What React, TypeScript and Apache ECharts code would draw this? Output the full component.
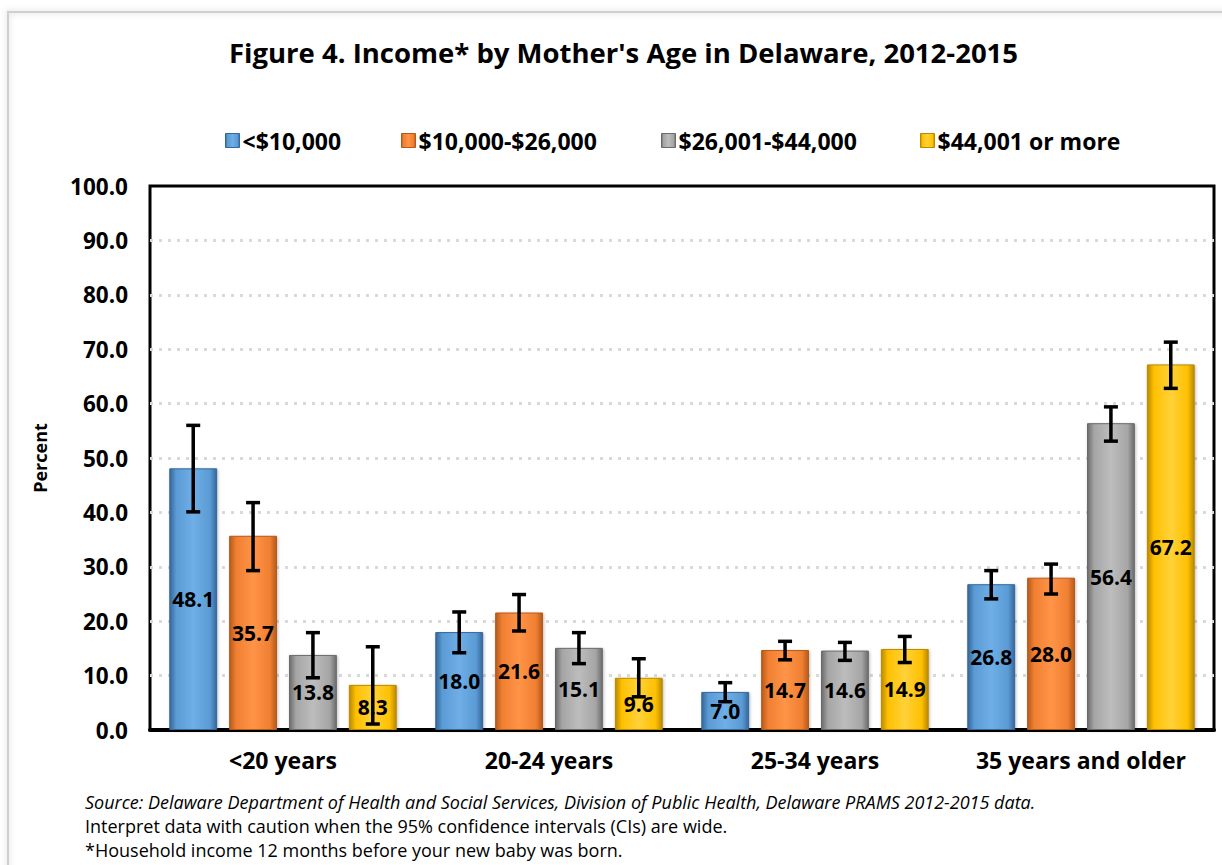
import React, { useEffect, useRef } from "react";
import * as echarts from "echarts";

const categories = ["<20 years", "20-24 years", "25-34 years", "35 years and older"];
const seriesNames = ["<$10,000", "$10,000-$26,000", "$26,001-$44,000", "$44,001 or more"];
const under10k = [48.1, 18.0, 7.0, 26.8];
const from10to26k = [35.7, 21.6, 14.7, 28.0];
const from26to44k = [13.8, 15.1, 14.6, 56.4];
const over44k = [8.3, 9.6, 14.9, 67.2];
const ciLow = [
  [40.1, 14.2, 5.2, 24.1],
  [29.3, 18.2, 12.9, 25.0],
  [9.6, 12.2, 12.8, 53.1],
  [1.1, 6.1, 12.4, 62.8],
];
const ciHigh = [
  [56.0, 21.7, 8.7, 29.3],
  [41.8, 24.9, 16.3, 30.5],
  [17.9, 17.9, 16.1, 59.4],
  [15.3, 13.1, 17.2, 71.3],
];
const yTicks = { min: 0, max: 100, interval: 10 };
const footnotes = [
  "Source: Delaware Department of Health and Social Services, Division of Public Health, Delaware PRAMS 2012-2015 data.",
  "Interpret data with caution when the 95% confidence intervals (CIs) are wide.",
  "*Household income 12 months before your new baby was born.",
];

const palettes = [
  { dark: "#35679A", base: "#5B9BD5", light: "#6FAEE6" },
  { dark: "#B65A1A", base: "#F07F32", light: "#FF9447" },
  { dark: "#6B6B6B", base: "#A5A5A5", light: "#BDBDBD" },
  { dark: "#B98A00", base: "#FFC000", light: "#FFD23A" },
];
const legendLefts = [220, 396, 656, 915];

const FONT = "'Open Sans', Lato, 'DejaVu Sans', sans-serif";

function grad(p: { dark: string; base: string; light: string }) {
  return new echarts.graphic.LinearGradient(0, 0, 1, 0, [
    { offset: 0, color: p.dark },
    { offset: 0.14, color: p.base },
    { offset: 0.5, color: p.light },
    { offset: 0.86, color: p.base },
    { offset: 1, color: p.dark },
  ]);
}

const BAR_PCT = 0.18;
const GAP_RATIO = 0.25;

export default function App() {
  const ref = useRef<HTMLDivElement>(null);
  useEffect(() => {
    if (!ref.current) return;
    const chart = echarts.init(ref.current, null, { renderer: "svg" });
    const values = [under10k, from10to26k, from26to44k, over44k];
    const barSeries = values.map((vals, i) => ({
      name: seriesNames[i],
      type: "bar",
      data: vals,
      barWidth: BAR_PCT * 100 + "%",
      barGap: GAP_RATIO * 100 + "%",
      itemStyle: {
        color: grad(palettes[i]),
        borderColor: palettes[i].dark,
        borderWidth: 1,
        shadowColor: "rgba(0,0,0,0.25)",
        shadowBlur: 3,
        shadowOffsetX: 1,
        shadowOffsetY: 1,
      },
      label: {
        show: true,
        position: "inside",
        formatter: (p: any) => Number(p.value).toFixed(1),
        color: "#000",
        fontFamily: FONT,
        fontWeight: "bold",
        fontSize: 21,
      },
      z: 2,
    }));
    const ciSeries = values.map((_, i) => ({
      name: "ci" + i,
      type: "custom",
      z: 5,
      silent: true,
      data: categories.map((_, c) => [c, ciLow[i][c], ciHigh[i][c]]),
      encode: { x: 0, y: [1, 2] },
      renderItem: (params: any, api: any) => {
        const c = api.value(0);
        const lo = api.coord([c, api.value(1)]);
        const hi = api.coord([c, api.value(2)]);
        const band = api.size([1, 0])[0];
        const bw = band * BAR_PCT;
        const step = bw * (1 + GAP_RATIO);
        const x = lo[0] + (i - 1.5) * step;
        const cap = 7;
        const style = { stroke: "#000", lineWidth: 3.5 };
        return {
          type: "group",
          children: [
            { type: "line", shape: { x1: x, y1: lo[1], x2: x, y2: hi[1] }, style },
            { type: "line", shape: { x1: x - cap, y1: lo[1], x2: x + cap, y2: lo[1] }, style },
            { type: "line", shape: { x1: x - cap, y1: hi[1], x2: x + cap, y2: hi[1] }, style },
          ],
        };
      },
    }));
    const legends = seriesNames.map((n, i) => ({
      data: [
        {
          name: n,
          itemStyle: { color: grad(palettes[i]), borderColor: palettes[i].dark, borderWidth: 1 },
        },
      ],
      left: legendLefts[i],
      top: 124,
      itemWidth: 14,
      itemHeight: 14,
      icon: "rect",
      textStyle: { fontFamily: FONT, fontWeight: "bold", fontSize: 23, color: "#000", padding: [0, 0, 0, -2] },
    }));
    const footTops = [793, 817, 841];
    const footGraphics = footnotes.map((t, i) => ({
      type: "text",
      left: 85,
      top: footTops[i],
      style: {
        text: t,
        font: (i === 0 ? "italic " : "") + "18px " + FONT,
        lineHeight: 18,
        fill: "#000",
      },
    }));
    chart.setOption({
      animation: false,
      backgroundColor: "#fff",
      title: {
        text: "Figure 4. Income* by Mother's Age in Delaware, 2012-2015",
        left: 224,
        top: 33,
        textStyle: { fontFamily: FONT, fontWeight: "bold", fontSize: 27.5, color: "#000" },
      },
      legend: legends,
      grid: {
        left: 150,
        right: 8,
        top: 186,
        bottom: 135,
        show: true,
        borderColor: "#000",
        borderWidth: 3,
      },
      xAxis: {
        type: "category",
        data: categories,
        axisTick: { show: false },
        axisLine: { lineStyle: { color: "#000", width: 4 } },
        axisLabel: { interval: 0, margin: 18, fontFamily: FONT, fontWeight: "bold", fontSize: 23, color: "#000" },
      },
      yAxis: {
        type: "value",
        min: yTicks.min,
        max: yTicks.max,
        interval: yTicks.interval,
        name: "Percent",
        nameLocation: "middle",
        nameRotate: 90,
        nameGap: 101,
        nameTextStyle: { fontFamily: FONT, fontWeight: "bold", fontSize: 18, color: "#000" },
        axisLine: { show: false },
        axisTick: { show: false },
        axisLabel: {
          margin: 22,
          formatter: (v: number) => v.toFixed(1),
          fontFamily: FONT,
          fontWeight: "bold",
          fontSize: 22.5,
          color: "#000",
        },
        splitLine: {
          showMaxLine: false,
          showMinLine: false,
          lineStyle: { color: "#d9d9d9", width: 3, type: [3, 6] },
        },
      },
      graphic: [
        {
          type: "rect",
          shape: { x: 8, y: 12, width: 1240, height: 880 },
          style: { fill: "none", stroke: "#cfcfcf", lineWidth: 2, shadowColor: "rgba(0,0,0,0.2)", shadowBlur: 6 },
          z: -1,
          silent: true,
        },
        ...footGraphics,
      ],
      series: [...barSeries, ...ciSeries],
    } as any);
    return () => chart.dispose();
  }, []);
  return (
    <div
      ref={ref}
      style={{ position: "fixed", left: 0, top: 0, width: 1222, height: 865, background: "#fff" }}
    />
  );
}
